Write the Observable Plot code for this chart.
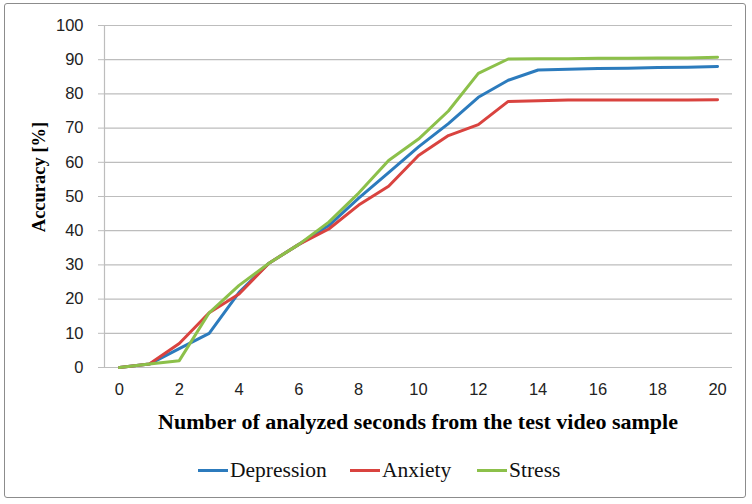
<!DOCTYPE html>
<html>
<head>
<meta charset="utf-8">
<script src="https://cdn.jsdelivr.net/npm/d3@7"></script>
<script src="https://cdn.jsdelivr.net/npm/@observablehq/plot@0.6"></script>
<style>
  html, body { margin: 0; padding: 0; background: #fff; }
  #wrap { position: relative; width: 752px; height: 504px; overflow: hidden; background: #fff; }
  #border { position: absolute; left: 4px; top: 3px; width: 742px; height: 495px; border: 1px solid #8c8c8c; border-radius: 3px; box-sizing: border-box; }
  #chart { position: absolute; left: 0; top: 0; }
  #chart svg text { font-size: 16.5px; }
  .title { position: absolute; font-family: "Liberation Serif", "Times New Roman", serif; font-weight: bold; color: #000; white-space: nowrap; }
  #xtitle { left: 0; width: 836px; top: 409px; text-align: center; font-size: 22px; }
  #ytitle { left: 39px; top: 177px; font-size: 18.5px; transform: translate(-50%, -50%) rotate(-90deg); }
  #legend { position: absolute; top: 458px; left: 0; width: 752px; font-family: "Liberation Serif", "Times New Roman", serif; font-size: 21.5px; color: #111; }
  .item { position: absolute; display: flex; align-items: center; white-space: nowrap; }
  .sw { display: inline-block; width: 30px; height: 3px; margin-right: 2px; }
</style>
</head>
<body>
<div id="wrap">
  <div id="border"></div>
  <div id="chart"></div>
  <div id="ytitle" class="title">Accuracy [%]</div>
  <div id="xtitle" class="title">Number of analyzed seconds from the test video sample</div>
  <div id="legend"></div>
</div>
<script>
const seconds = [0, 1, 2, 3, 4, 5, 6, 7, 8, 9, 10, 11, 12, 13, 14, 15, 16, 17, 18, 19, 20];
const depression = [0, 1, 5.5, 10, 22, 30.5, 36, 41.5, 49.5, 57, 64.5, 71.3, 79, 84, 87, 87.2, 87.4, 87.5, 87.7, 87.8, 88];
const anxiety = [0, 1, 7, 16, 21.5, 30.5, 36, 40.5, 47.5, 53, 62, 67.8, 71, 77.8, 78, 78.2, 78.2, 78.2, 78.2, 78.2, 78.3];
const stress = [0, 1, 2, 16, 24, 30.5, 36, 42.5, 51, 60.5, 66.8, 75, 86, 90.2, 90.3, 90.3, 90.4, 90.4, 90.5, 90.5, 90.7];
const seriesNames = ["Depression", "Anxiety", "Stress"];
const seriesColors = ["#2c7bbd", "#d9433f", "#8cc04a"];
const xTicks = [0, 2, 4, 6, 8, 10, 12, 14, 16, 18, 20];
const yTicks = [0, 10, 20, 30, 40, 50, 60, 70, 80, 90, 100];

const values = [depression, anxiety, stress];
const rows = [];
seriesNames.forEach((name, i) => {
  seconds.forEach((s, j) => rows.push({series: name, x: s, y: values[i][j]}));
});

const plot = Plot.plot({
  width: 752,
  height: 440,
  marginLeft: 104,
  marginRight: 20,
  marginTop: 25,
  marginBottom: 73,
  style: {fontFamily: "'Liberation Sans', Arial, sans-serif", fontSize: "16px", color: "#222", background: "transparent"},
  x: {domain: [-0.5, 20.5]},
  y: {domain: [0, 100]},
  color: {domain: seriesNames, range: seriesColors},
  marks: [
    Plot.ruleY(yTicks, {stroke: "#bdbdbd", strokeWidth: 1.2}),
    Plot.ruleX([-0.5], {y1: 0, y2: 100, stroke: "#bdbdbd", strokeWidth: 1.2}),
    Plot.axisY({ticks: yTicks, tickSize: 6, tickPadding: 15, stroke: "#bdbdbd", label: null, fontSize: 16, fill: "#222"}),
    Plot.axisX({ticks: xTicks, tickSize: 0, tickPadding: 16, label: null, fontSize: 16, fill: "#222"}),
    Plot.line(rows, {x: "x", y: "y", z: "series", stroke: "series", strokeWidth: 3, strokeLinejoin: "round"})
  ]
});
document.getElementById("chart").appendChild(plot);

const legendPos = [198, 350, 477];
const legend = document.getElementById("legend");
seriesNames.forEach((name, i) => {
  const it = document.createElement("div");
  it.className = "item";
  it.style.left = legendPos[i] + "px";
  it.innerHTML = `<span class="sw" style="background:${seriesColors[i]}"></span><span>${name}</span>`;
  legend.appendChild(it);
});
</script>
</body>
</html>
